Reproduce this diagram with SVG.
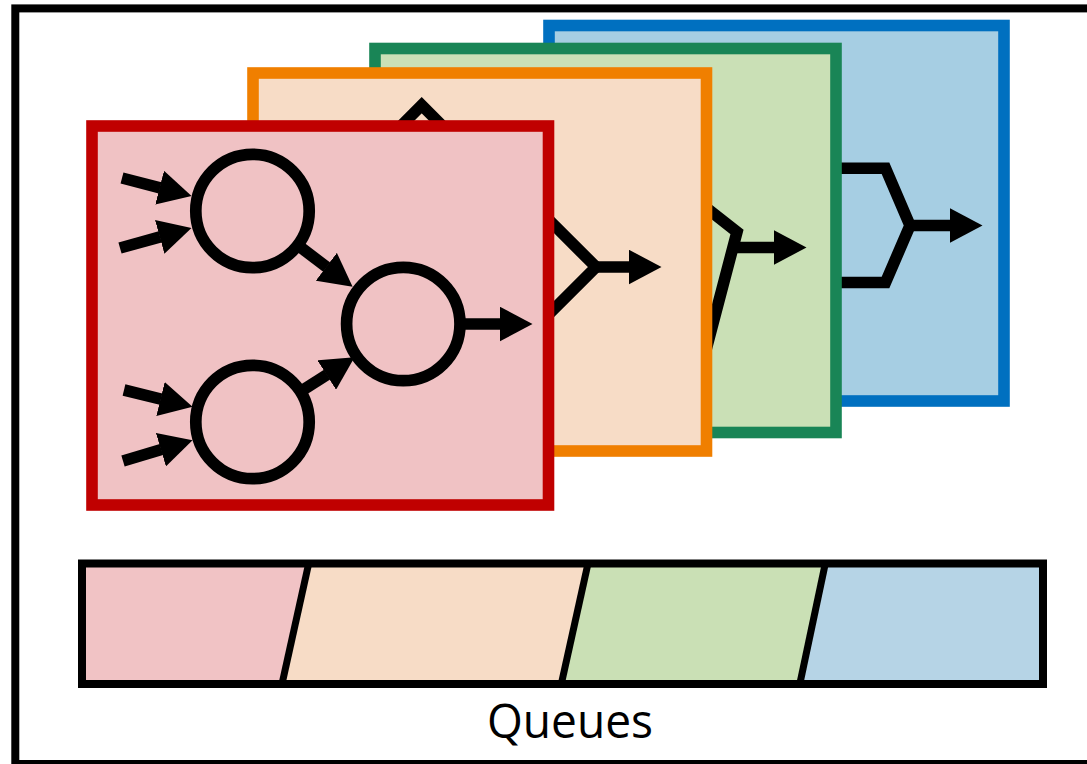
<svg xmlns="http://www.w3.org/2000/svg" width="1087" height="764" viewBox="0 0 1087 764">
  <style>
    .panel { stroke-width: 11.6; }
    .wire { fill: none; stroke: #000; stroke-width: 11.6; stroke-linejoin: miter; }
    .arrow { fill: none; stroke: #000; stroke-width: 11.6; marker-end: url(#head); }
    .node { fill: #f0c2c4; stroke: #000; stroke-width: 11.7; }
    .divider { fill: none; stroke: #000; stroke-width: 7; }
    .label { font-family: "Open Sans", "Noto Sans", sans-serif; font-size: 48px; fill: #000; }
  </style>
  <defs>
    <marker id="head" markerUnits="userSpaceOnUse" viewBox="0 0 33 35" markerWidth="33" markerHeight="35" refX="0.5" refY="17.5" orient="auto">
      <path d="M0,0 L33,17.5 L0,35 Z" fill="#000"/>
    </marker>
  </defs>

  <!-- page background and outer frame -->
  <rect width="1087" height="764" fill="#fff"/>
  <rect id="frame" x="15.3" y="8.4" width="1100" height="755.6" fill="#fff" stroke="#000" stroke-width="8"/>

  <!-- back layer: merge into one output -->
  <g id="layer-blue">
    <rect class="panel" x="549" y="25.5" width="455" height="375.5" fill="#a6cee3" stroke="#0070c0"/>
    <path class="wire" d="M830,168.3 L885.5,168.3 L910,225.5 L885.5,282.5 L830,282.5"/>
    <path class="arrow" d="M908,225.5 L950,225.5"/>
  </g>

  <g id="layer-green">
    <rect class="panel" x="375" y="48.5" width="461" height="384" fill="#cae0b6" stroke="#198556"/>
    <path class="wire" d="M690,195 L737,232 L706,350"/>
    <path class="arrow" d="M731,247.5 L774,247.5"/>
  </g>

  <g id="layer-orange">
    <rect class="panel" x="253" y="73" width="453.5" height="378" fill="#f7dcc6" stroke="#f07f00"/>
    <path class="wire" d="M380,147 L421.7,105.2 L463.4,147"/>
    <path class="wire" d="M540,211 L596,267 L540,323"/>
    <path class="arrow" d="M594,267 L629,267"/>
  </g>

  <!-- front layer: three-node graph -->
  <g id="layer-red">
    <rect class="panel" x="92" y="126" width="456.5" height="379" fill="#f0c2c4" stroke="#c00000"/>
    <g id="connectors">
      <path class="arrow" d="M122,178 L160.1,187.8"/>
      <path class="arrow" d="M120,248 L160.2,236.8"/>
      <path class="arrow" d="M124,390 L161,399.1"/>
      <path class="arrow" d="M123,461 L161.4,449.5"/>
      <path class="arrow" d="M300.4,247.2 L326.7,267.1"/>
      <path class="arrow" d="M303.1,389.9 L327.1,374.7"/>
      <path class="arrow" d="M463.3,324 L500,324"/>
    </g>
    <g id="node-a"><circle class="node" cx="252.5" cy="211" r="56.7"/></g>
    <g id="node-b"><circle class="node" cx="252.5" cy="422" r="56.7"/></g>
    <g id="node-c"><circle class="node" cx="403.3" cy="324" r="56.7"/></g>
  </g>

  <!-- shared queue strip -->
  <g id="queues">
    <polygon points="82,563.5 308.7,563.5 282,684 82,684" fill="#f1c3c5"/>
    <polygon points="308.7,563.5 588,563.5 561.3,684 282,684" fill="#f7dcc6"/>
    <polygon points="588,563.5 825.3,563.5 799.8,684 561.3,684" fill="#cae0b5"/>
    <polygon points="825.3,563.5 1043,563.5 1043,684 799.8,684" fill="#b6d4e6"/>
    <line class="divider" x1="308.7" y1="563.5" x2="282" y2="684"/>
    <line class="divider" x1="588" y1="563.5" x2="561.3" y2="684"/>
    <line class="divider" x1="825.3" y1="563.5" x2="799.8" y2="684"/>
    <rect x="82" y="563.5" width="961" height="120.5" fill="none" stroke="#000" stroke-width="8"/>
    <text class="label" x="570" y="738" text-anchor="middle" textLength="166" lengthAdjust="spacingAndGlyphs">Queues</text>
  </g>
</svg>
